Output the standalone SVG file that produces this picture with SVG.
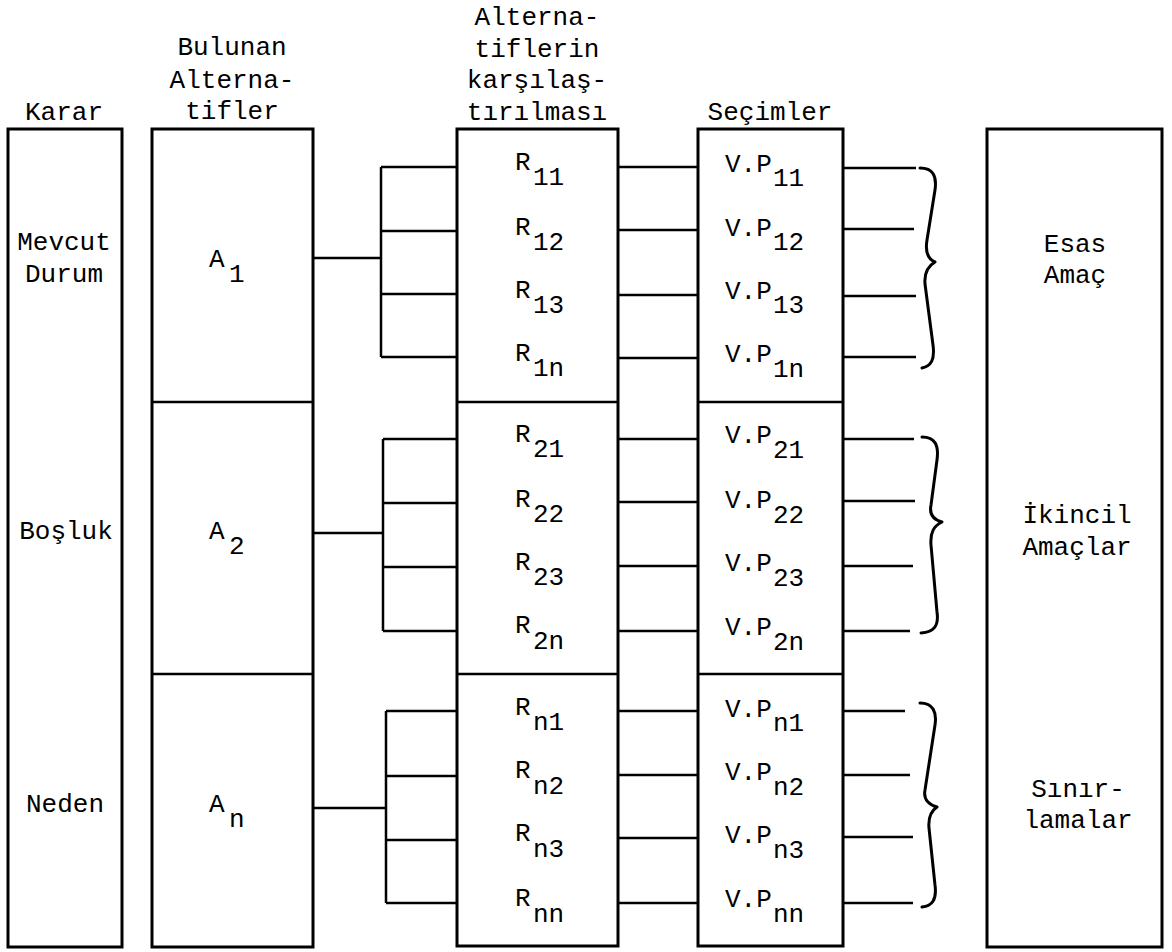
<svg xmlns="http://www.w3.org/2000/svg" width="1172" height="952" viewBox="0 0 1172 952">
<style>
.box{fill:none;stroke:#000;stroke-width:3}
.div{fill:none;stroke:#000;stroke-width:2.5}
.ln{fill:none;stroke:#000;stroke-width:2.5}
.br{fill:none;stroke:#000;stroke-width:3;stroke-linecap:round;stroke-linejoin:round}
text{font-family:"Liberation Mono","DejaVu Sans Mono",monospace;font-size:26px;fill:#000}
.c{text-anchor:middle}
</style>
<rect width="1172" height="952" fill="#fff"/>
<g id="headers">
<text class="c" x="64" y="120">Karar</text>
<text class="c" x="232" y="55">Bulunan</text>
<text class="c" x="232" y="88">Alterna-</text>
<text class="c" x="232" y="119">tifler</text>
<text class="c" x="537" y="25">Alterna-</text>
<text class="c" x="537" y="57">tiflerin</text>
<text class="c" x="537" y="88">karşılaş-</text>
<text class="c" x="537" y="120">tırılması</text>
<text class="c" x="770" y="120">Seçimler</text>
</g>
<g id="karar">
<rect class="box" x="8" y="129" width="114" height="818"/>
<text class="c" x="64" y="250">Mevcut</text>
<text class="c" x="64" y="282">Durum</text>
<text class="c" x="66" y="539">Boşluk</text>
<text class="c" x="65" y="812">Neden</text>
</g>
<g id="alternatifler">
<rect class="box" x="152" y="129" width="161" height="818"/>
<line class="div" x1="152" y1="402" x2="313" y2="402"/>
<line class="div" x1="152" y1="674" x2="313" y2="674"/>
<text x="209" y="267">A</text><text x="229" y="282">1</text>
<text x="209" y="539">A</text><text x="229" y="554">2</text>
<text x="209" y="812">A</text><text x="229" y="827">n</text>
</g>
<g id="karsilastirma">
<rect class="box" x="457" y="129" width="161" height="817"/>
<line class="div" x1="457" y1="402" x2="618" y2="402"/>
<line class="div" x1="457" y1="674" x2="618" y2="674"/>
<text x="515" y="170">R</text><text x="533" y="185">11</text>
<text x="515" y="235">R</text><text x="533" y="250">12</text>
<text x="515" y="298">R</text><text x="533" y="313">13</text>
<text x="515" y="361">R</text><text x="533" y="376">1n</text>
<text x="515" y="442">R</text><text x="533" y="457">21</text>
<text x="515" y="507">R</text><text x="533" y="522">22</text>
<text x="515" y="570">R</text><text x="533" y="585">23</text>
<text x="515" y="633">R</text><text x="533" y="649">2n</text>
<text x="515" y="715">R</text><text x="533" y="730">n1</text>
<text x="515" y="778">R</text><text x="533" y="794">n2</text>
<text x="515" y="841">R</text><text x="533" y="857">n3</text>
<text x="515" y="906">R</text><text x="533" y="922">nn</text>
</g>
<g id="secimler">
<rect class="box" x="698" y="129" width="145" height="817"/>
<line class="div" x1="698" y1="402" x2="843" y2="402"/>
<line class="div" x1="698" y1="674" x2="843" y2="674"/>
<text x="725" y="172">V.P</text><text x="773" y="186">11</text>
<text x="725" y="236">V.P</text><text x="773" y="250">12</text>
<text x="725" y="299">V.P</text><text x="773" y="313">13</text>
<text x="725" y="362">V.P</text><text x="773" y="377">1n</text>
<text x="725" y="443">V.P</text><text x="773" y="458">21</text>
<text x="725" y="508">V.P</text><text x="773" y="523">22</text>
<text x="725" y="571">V.P</text><text x="773" y="586">23</text>
<text x="725" y="635">V.P</text><text x="773" y="650">2n</text>
<text x="725" y="717">V.P</text><text x="773" y="731">n1</text>
<text x="725" y="780">V.P</text><text x="773" y="795">n2</text>
<text x="725" y="843">V.P</text><text x="773" y="858">n3</text>
<text x="725" y="907">V.P</text><text x="773" y="922">nn</text>
</g>
<g id="amaclar">
<rect class="box" x="987" y="129" width="175" height="818"/>
<text class="c" x="1075" y="252">Esas</text>
<text class="c" x="1075" y="283">Amaç</text>
<text class="c" x="1077" y="523">İkincil</text>
<text class="c" x="1077" y="555">Amaçlar</text>
<text class="c" x="1078" y="797">Sınır-</text>
<text class="c" x="1078" y="828">lamalar</text>
</g>
<g id="connectors">
<path class="ln" d="M313,258H381M381,167V357M381,167H457M381,231H457M381,294H457M381,357H457"/>
<path class="ln" d="M313,533H383M383,439V631M383,439H457M383,503H457M383,567H457M383,631H457"/>
<path class="ln" d="M313,808H386M386,711V903M386,711H457M386,776H457M386,840H457M386,903H457"/>
<path class="ln" d="M618,167H698M618,230H698M618,295H698M618,358H698M618,439H698M618,502H698M618,566H698M618,631H698M618,711H698M618,775H698M618,838H698M618,903H698"/>
<path class="ln" d="M843,168H916M843,229H914M843,296H916M843,357H916M843,439H914M843,501H915M843,566H913M843,631H910M843,711H905M843,775H910M843,837H913M843,903H913"/>
<path class="br" d="M920,168C933,168 937,176 935,190L927,240C925,252 928,259 935,262C928,266 924,272 925,284L933,345C935,360 931,366 922,368"/>
<path class="br" d="M922,437C935,437 939,445 937,460L931,505C929,515 934,520 942,522C934,526 930,532 931,545L937,612C939,626 934,632 921,633"/>
<path class="br" d="M920,703C933,703 937,712 935,725L925,790C923,800 930,805 937,807C931,811 928,817 929,828L935,885C937,900 932,906 922,907"/>
</g>
</svg>
